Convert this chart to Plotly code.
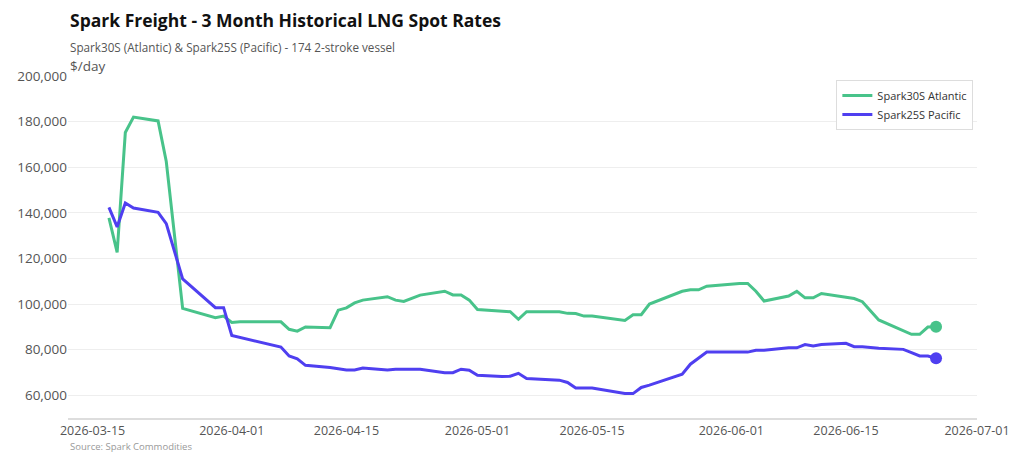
import plotly.graph_objects as go

atl_dates = ["2026-03-17","2026-03-18","2026-03-19","2026-03-20","2026-03-23","2026-03-24","2026-03-26",
             "2026-03-30","2026-03-31","2026-04-01","2026-04-02","2026-04-07","2026-04-08","2026-04-09",
             "2026-04-10","2026-04-13","2026-04-14","2026-04-15","2026-04-16","2026-04-17","2026-04-20",
             "2026-04-21","2026-04-22","2026-04-24","2026-04-27","2026-04-28","2026-04-29","2026-04-30",
             "2026-05-01","2026-05-04","2026-05-05","2026-05-06","2026-05-07","2026-05-11","2026-05-12",
             "2026-05-13","2026-05-14","2026-05-15","2026-05-19","2026-05-20","2026-05-21","2026-05-22",
             "2026-05-26","2026-05-27","2026-05-28","2026-05-29","2026-06-01","2026-06-02","2026-06-03",
             "2026-06-04","2026-06-05","2026-06-08","2026-06-09","2026-06-10","2026-06-11","2026-06-12",
             "2026-06-15","2026-06-16","2026-06-17","2026-06-19","2026-06-23","2026-06-24","2026-06-25",
             "2026-06-26"]
atl_vals = [137800,122600,175200,182000,180300,162500,98100,
            94000,94700,91900,92200,92200,88900,88100,
            89900,89600,97300,98300,100500,101700,103200,
            101700,101100,103900,105600,104000,104000,101700,
            97600,96900,96600,93300,96600,96600,95900,
            95800,94700,94700,92800,95300,95300,100000,
            105600,106200,106200,107800,108800,109000,109000,
            105600,101300,103500,105600,102700,102700,104600,
            103000,102400,101000,93000,86700,86700,89900,
            90000]

pac_dates = ["2026-03-17","2026-03-18","2026-03-19","2026-03-20","2026-03-23","2026-03-24","2026-03-26",
             "2026-03-30","2026-03-31","2026-04-01","2026-04-07","2026-04-08","2026-04-09","2026-04-10",
             "2026-04-13","2026-04-15","2026-04-16","2026-04-17","2026-04-20","2026-04-21","2026-04-24",
             "2026-04-27","2026-04-28","2026-04-29","2026-04-30","2026-05-01","2026-05-04","2026-05-05",
             "2026-05-06","2026-05-07","2026-05-11","2026-05-12","2026-05-13","2026-05-15","2026-05-19",
             "2026-05-20","2026-05-21","2026-05-22","2026-05-26","2026-05-27","2026-05-29","2026-06-02",
             "2026-06-03","2026-06-04","2026-06-05","2026-06-08","2026-06-09","2026-06-10","2026-06-11",
             "2026-06-12","2026-06-15","2026-06-16","2026-06-17","2026-06-19","2026-06-22","2026-06-23",
             "2026-06-24","2026-06-25","2026-06-26"]
pac_vals = [142400,133800,144300,142100,140200,135250,111000,
            98400,98400,86200,81100,77200,76000,73100,
            72100,71100,71100,71950,71100,71400,71400,
            69900,69900,71400,70950,68750,68200,68300,
            69600,67300,66600,65600,63200,63200,60700,
            60700,63400,64400,69200,73600,78900,78900,
            78900,79700,79700,80800,80800,82200,81600,
            82200,82750,81300,81300,80600,80100,78700,
            77200,77200,76200]

x_tick_vals = ["2026-03-15","2026-04-01","2026-04-15","2026-05-01","2026-05-15","2026-06-01","2026-06-15","2026-07-01"]
x_tick_text = x_tick_vals
y_tick_vals = [60000, 80000, 100000, 120000, 140000, 160000, 180000, 200000]

GREEN = "#48C38A"
BLUE = "#4F3FF0"
FONT = "Open Sans"

fig = go.Figure()
fig.add_trace(go.Scatter(x=atl_dates, y=atl_vals, mode="lines", name="Spark30S Atlantic",
                         line=dict(color=GREEN, width=3)))
fig.add_trace(go.Scatter(x=pac_dates, y=pac_vals, mode="lines", name="Spark25S Pacific",
                         line=dict(color=BLUE, width=3)))
fig.add_trace(go.Scatter(x=atl_dates[-1:], y=atl_vals[-1:], mode="markers", showlegend=False,
                         marker=dict(color=GREEN, size=12)))
fig.add_trace(go.Scatter(x=pac_dates[-1:], y=pac_vals[-1:], mode="markers", showlegend=False,
                         marker=dict(color=BLUE, size=12)))

L, R, T, B = 68, 47, 76, 47
H = 465
ph = H - T - B

def py(ypix):
    return (H - B - ypix) / ph

fig.update_layout(
    width=1024, height=465,
    margin=dict(l=L, r=R, t=T, b=B),
    paper_bgcolor="white", plot_bgcolor="white",
    font=dict(family=FONT, color="#555555"),
    showlegend=True,
    legend=dict(x=0.996, y=0.988, xanchor="right", yanchor="top",
                bgcolor="white", bordercolor="#dddddd", borderwidth=1,
                font=dict(size=11, color="#333333"), tracegroupgap=0,
                itemwidth=30),
    xaxis=dict(type="date", range=["2026-03-12", "2026-07-01"],
               tickvals=x_tick_vals, ticktext=x_tick_text,
               showgrid=False, showline=True, linecolor="#dddddd", linewidth=2,
               ticks="", tickfont=dict(size=12.5, color="#555555"), zeroline=False),
    yaxis=dict(range=[50000, 200000], tickvals=y_tick_vals, tickformat=",",
               showgrid=True, gridcolor="#eeeeee", gridwidth=1, zeroline=False,
               showline=False, ticks="", tickfont=dict(size=13.5, color="#555555")),
    annotations=[
        dict(text="<b>Spark Freight - 3 Month Historical LNG Spot Rates</b>", xref="paper", yref="paper",
             x=0, y=py(20), xanchor="left", yanchor="middle", showarrow=False,
             font=dict(size=17.5, color="#111111", family=FONT)),
        dict(text="Spark30S (Atlantic) & Spark25S (Pacific) - 174 2-stroke vessel", xref="paper", yref="paper",
             x=0, y=py(47), xanchor="left", yanchor="middle", showarrow=False,
             font=dict(size=11.7, color="#555555", family=FONT)),
        dict(text="$/day", xref="paper", yref="paper",
             x=0, y=py(66), xanchor="left", yanchor="middle", showarrow=False,
             font=dict(size=13.5, color="#555555", family=FONT)),
        dict(text="Source: Spark Commodities", xref="paper", yref="paper",
             x=0, y=py(446), xanchor="left", yanchor="middle", showarrow=False,
             font=dict(size=9.5, color="#999999", family=FONT)),
    ],
)

fig.write_html("out.html")
